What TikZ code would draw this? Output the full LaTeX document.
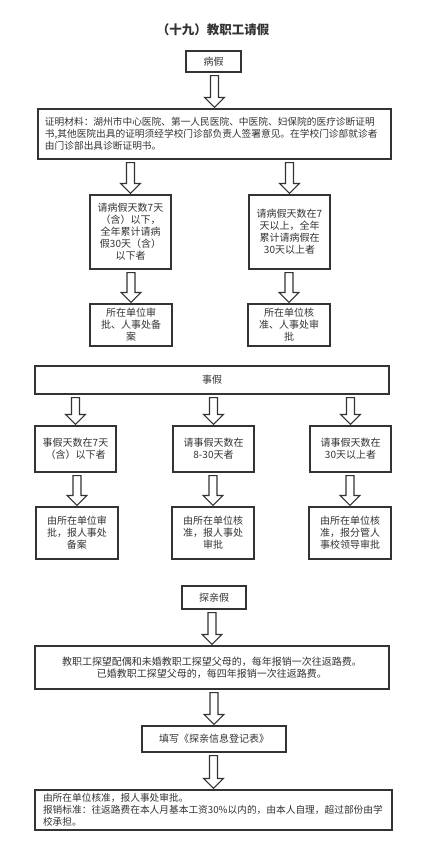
\documentclass[tikz,border=0pt]{standalone}
\usepackage{fontspec}
\newfontfamily\cjk{Noto Sans CJK SC}
\usepackage{xcolor}
\usetikzlibrary{calc}
\definecolor{boxline}{HTML}{333333}
\tikzset{
  box/.style={draw=boxline,line width=1.1pt,inner sep=0pt,align=center,text=boxline,
    font=\cjk\fontsize{10}{12}\selectfont},
  leftbox/.style={box,align=left,inner xsep=7pt,text width=#1,
    font=\cjk\fontsize{9.7}{12}\selectfont},
  blockline/.style={draw=boxline,line width=1.1pt,line join=miter}
}
\newcommand{\blockarrow}[2]{%
  \draw[blockline] let \p1=(#1.south), \p2=(#2.north) in
    (\x2-4pt,\y1-3pt) -- (\x2+4pt,\y1-3pt) -- (\x2+4pt,\y2+11pt) -- (\x2+10pt,\y2+11pt)
    -- (\x2,\y2+1pt) -- (\x2-10pt,\y2+11pt) -- (\x2-4pt,\y2+11pt) -- cycle;}
\begin{document}
\begin{tikzpicture}[x=1pt,y=1pt]
  \useasboundingbox[fill=white] (0,0) rectangle (426,-847);
  \node[text=boxline,font=\cjk\bfseries\fontsize{12.5}{14}\selectfont] (title) at (213,-30) {（十九）教职工请假};

  \node[box,minimum width=55,minimum height=21] (sick) at (213.5,-61.5) {病假};
  \node[leftbox=339,minimum height=50] (proof) at (214.5,-134)
    {证明材料：湖州市中心医院、第一人民医院、中医院、妇保院的医疗诊断证明\\
     书,其他医院出具的证明须经学校门诊部负责人签署意见。在学校门诊部就诊者\\
     由门诊部出具诊断证明书。};
  \node[box,minimum width=81,minimum height=74] (sickA) at (130.5,-232)
    {请病假天数7天\\（含）以下，\\全年累计请病\\假30天（含）\\以下者};
  \node[box,minimum width=81,minimum height=74] (sickB) at (289.5,-232)
    {请病假天数在7\\天以上，全年\\累计请病假在\\30天以上者};
  \node[box,minimum width=82,minimum height=42] (sickAok) at (131,-325)
    {所在单位审\\批、人事处备\\案};
  \node[box,minimum width=82,minimum height=42] (sickBok) at (289,-325)
    {所在单位核\\准、人事处审\\批};
  \blockarrow{sick}{proof}
  \blockarrow{proof}{sickA}
  \blockarrow{proof}{sickB}
  \blockarrow{sickA}{sickAok}
  \blockarrow{sickB}{sickBok}

  \node[box,minimum width=354,minimum height=28] (pers) at (212,-380) {事假};
  \node[box,minimum width=81,minimum height=46] (persA) at (75.5,-449)
    {事假天数在7天\\（含）以下者};
  \node[box,minimum width=81,minimum height=46] (persB) at (213.5,-449)
    {请事假天数在\\8-30天者};
  \node[box,minimum width=81,minimum height=46] (persC) at (350.5,-449)
    {请事假天数在\\30天以上者};
  \node[box,minimum width=82,minimum height=52] (persAok) at (77,-533)
    {由所在单位审\\批，报人事处\\备案};
  \node[box,minimum width=82,minimum height=52] (persBok) at (213,-533)
    {由所在单位核\\准，报人事处\\审批};
  \node[box,minimum width=82,minimum height=52] (persCok) at (350,-533)
    {由所在单位核\\准，报分管人\\事校领导审批};
  \foreach \k in {A,B,C}{
    \blockarrow{pers}{pers\k}
    \blockarrow{pers\k}{pers\k ok}
  }

  \node[box,minimum width=354,minimum height=43] (homerule) at (212,-667.5)
    {教职工探望配偶和未婚教职工探望父母的，每年报销一次往返路费。\\
     已婚教职工探望父母的，每四年报销一次往返路费。};
  \node[box,minimum width=64,minimum height=23] (home) at (214,-597.5) {探亲假};
  \node[box,minimum width=144,minimum height=26] (form) at (214,-739)
    {填写《探亲信息登记表》};
  \node[leftbox=341,inner xsep=8pt,minimum height=40] (final) at (213.5,-810)
    {由所在单位核准，报人事处审批。\\
     报销标准：往返路费在本人月基本工资30\%以内的，由本人自理，超过部份由学\\
     校承担。};
  \blockarrow{home}{homerule}
  \blockarrow{homerule}{form}
  \blockarrow{form}{final}
\end{tikzpicture}
\end{document}
